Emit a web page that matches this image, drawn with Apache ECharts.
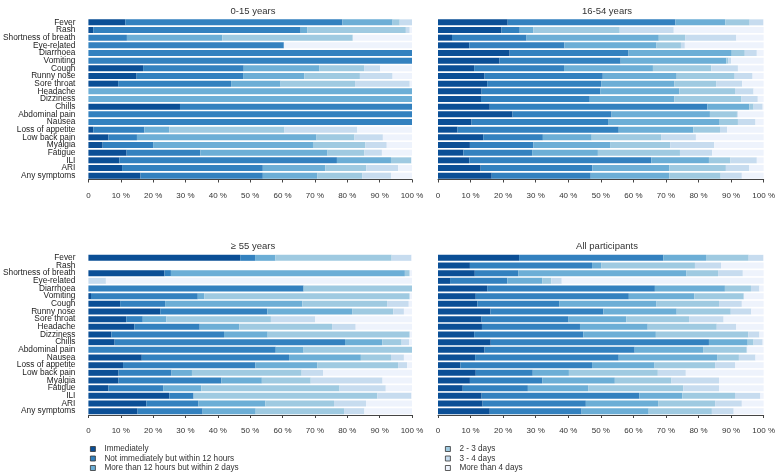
<!DOCTYPE html>
<html>
<head>
<meta charset="utf-8">
<script src="https://cdn.jsdelivr.net/npm/echarts@6/dist/echarts.min.js"></script>
<style>
  html, body { margin: 0; padding: 0; background: #fff; }
  #chart { width: 778px; height: 474px; }
</style>
</head>
<body>
<div id="chart"></div>
<script>
const FONT = "'Liberation Sans', Arial, sans-serif";

const categories = [
  "Fever", "Rash", "Shortness of breath", "Eye-related", "Diarrhoea", "Vomiting",
  "Cough", "Runny nose", "Sore throat", "Headache", "Dizziness", "Chills",
  "Abdominal pain", "Nausea", "Loss of appetite", "Low back pain", "Myalgia",
  "Fatigue", "ILI", "ARI", "Any symptoms"
];
const seriesNames = [
  "Immediately",
  "Not immediately but within 12 hours",
  "More than 12 hours but within 2 days",
  "2 - 3 days",
  "3 - 4 days",
  "More than 4 days"
];
const colors = ["#0b4f96", "#3381bf", "#6caed6", "#9fcae1", "#c7dcef", "#eef3fc"];
const panelTitles = ["0-15 years", "16-54 years", "\u2265 55 years", "All participants"];
const xTicks = [0, 10, 20, 30, 40, 50, 60, 70, 80, 90, 100];

// rows follow seriesNames, columns follow categories (percent)
const age0to15 = [
  [11.4, 1.5, 0, 0, 0, 0, 16.9, 14.9, 9.2, 0, 0, 28.3, 0, 0, 1.5, 6.2, 4.4, 11.8, 9.6, 10.4, 16.1],
  [67.1, 64.1, 11.9, 60.4, 100, 100, 31.1, 32.9, 34.9, 0, 0, 71.7, 100, 100, 15.8, 8.8, 15.6, 22.8, 67.2, 43.5, 37.8],
  [15.5, 2.0, 29.5, 0, 0, 0, 23.3, 18.9, 15.3, 100, 100, 0, 0, 0, 7.7, 55.5, 49.4, 39.3, 16.7, 19.3, 16.8],
  [2.2, 30.5, 40.3, 0, 0, 0, 13.9, 17.2, 23.0, 0, 0, 0, 0, 0, 35.6, 11.7, 16.2, 11.4, 6.3, 12.7, 13.9],
  [3.8, 1.2, 0, 0, 0, 0, 5.0, 10.1, 16.9, 0, 0, 0, 0, 0, 22.5, 8.8, 6.6, 5.4, 0, 9.8, 8.9],
  [0, 0.7, 18.3, 39.6, 0, 0, 9.8, 6.0, 0.7, 0, 0, 0, 0, 0, 16.9, 9.0, 7.8, 9.3, 0.2, 4.3, 6.5]
];
const age16to54 = [
  [21.4, 19.5, 4.3, 9.6, 22.0, 18.9, 11.1, 14.3, 15.1, 13.4, 13.2, 15.9, 22.9, 10.3, 6.0, 13.9, 9.8, 7.8, 9.6, 13.1, 16.5],
  [51.5, 5.6, 22.9, 29.2, 36.5, 37.2, 27.6, 36.3, 35.0, 36.4, 33.4, 66.8, 30.4, 42.1, 49.5, 18.3, 19.5, 21.1, 55.9, 34.3, 30.4],
  [15.3, 4.2, 40.6, 28.3, 31.7, 32.4, 27.3, 22.7, 22.5, 24.3, 26.0, 12.9, 30.2, 34.1, 22.9, 15.0, 23.7, 20.2, 17.7, 23.6, 24.1],
  [7.5, 26.5, 8.1, 7.5, 4.0, 0.7, 17.9, 17.8, 12.8, 17.1, 20.6, 1.3, 8.3, 5.6, 8.2, 21.3, 18.3, 25.2, 6.6, 17.4, 15.8],
  [4.2, 16.6, 15.7, 1.2, 3.7, 0.8, 8.2, 5.5, 8.0, 5.7, 5.0, 2.8, 0.3, 5.4, 2.2, 10.7, 13.5, 9.9, 8.1, 7.2, 6.5],
  [0.1, 27.6, 8.4, 24.2, 2.1, 10.0, 7.9, 3.4, 6.6, 3.1, 1.8, 0.3, 7.9, 2.5, 11.2, 20.8, 15.2, 15.8, 2.1, 4.4, 6.7]
];
const age55plus = [
  [46.9, 0, 23.5, 0, 0, 0.8, 9.8, 22.2, 11.7, 14.2, 7.1, 8.1, 0, 16.5, 10.7, 9.3, 9.3, 6.2, 25.0, 17.9, 15.2],
  [4.6, 0, 2.0, 0, 66.5, 33.0, 13.9, 33.1, 5.1, 20.2, 34.8, 71.2, 57.9, 45.5, 40.9, 16.4, 31.8, 16.9, 7.5, 16.1, 20.1],
  [6.3, 0, 72.3, 0, 0, 2.0, 42.4, 26.2, 7.3, 12.2, 13.5, 11.5, 8.6, 22.2, 19.1, 6.3, 12.5, 11.8, 0, 20.7, 16.4],
  [35.9, 0, 1.5, 0, 33.5, 63.5, 26.2, 12.7, 32.3, 28.7, 43.9, 6.0, 33.5, 9.3, 25.0, 33.9, 15.1, 42.7, 56.8, 21.2, 27.3],
  [6.1, 0, 0, 5.4, 0, 0, 6.7, 3.3, 13.7, 7.3, 0, 2.3, 0, 4.0, 2.8, 6.6, 22.2, 14.3, 10.5, 9.9, 6.3],
  [0.2, 0, 0.7, 94.6, 0, 0.7, 1.0, 2.5, 29.9, 17.4, 0.7, 0.9, 0, 2.5, 1.5, 27.5, 9.1, 8.1, 0.2, 14.2, 14.7]
];
const allParticipants = [
  [24.9, 9.8, 11.3, 3.7, 15.1, 11.6, 12.1, 16.1, 13.4, 13.5, 11.1, 16.2, 14.3, 11.4, 6.9, 11.6, 9.8, 7.6, 13.4, 13.7, 15.9],
  [44.3, 37.5, 13.4, 17.6, 51.5, 47.0, 25.1, 34.7, 26.7, 30.1, 33.5, 67.0, 46.1, 44.1, 40.4, 17.5, 22.2, 20.0, 48.4, 31.7, 28.2],
  [13.1, 2.9, 51.6, 10.7, 21.5, 20.1, 29.9, 22.5, 17.7, 20.8, 22.3, 11.9, 21.0, 30.2, 19.2, 11.1, 22.3, 18.5, 13.2, 22.2, 20.6],
  [13.1, 28.7, 9.7, 2.8, 8.0, 15.2, 19.2, 16.6, 19.3, 21.2, 28.4, 1.8, 13.4, 6.7, 18.6, 27.3, 17.4, 29.2, 16.2, 17.5, 19.4],
  [4.5, 8.0, 7.6, 3.2, 2.6, 0, 7.0, 6.3, 10.6, 6.0, 3.4, 2.8, 0.2, 5.1, 6.1, 8.6, 14.6, 11.0, 7.8, 8.2, 6.7],
  [0.1, 13.1, 6.4, 62.0, 1.3, 6.1, 6.7, 3.8, 12.3, 8.4, 1.3, 0.3, 5.0, 2.5, 8.8, 23.9, 13.7, 13.7, 1.0, 6.7, 9.2]
];
const panels = [age0to15, age16to54, age55plus, allParticipants];

// panel boxes: left, top
const boxes = [
  { left: 84, top: 18.5 },
  { left: 438, top: 18.5 },
  { left: 84, top: 254 },
  { left: 438, top: 254 }
];
const gridW = 328;
const gridH = 161;

const grids = [];
const xAxes = [];
const yAxes = [];
const titles = [];
const series = [];

panels.forEach((panel, p) => {
  const b = boxes[p];
  grids.push({ left: b.left, top: b.top, width: gridW, height: gridH, containLabel: false });
  titles.push({
    text: panelTitles[p],
    left: b.left + gridW / 2,
    top: b.top - 17.5,
    textAlign: "center",
    textStyle: { fontFamily: FONT, fontSize: 9.5, fontWeight: "normal", color: "#333" }
  });
  xAxes.push({
    gridIndex: p,
    type: "value",
    min: xTicks[0],
    max: xTicks[xTicks.length - 1],
    interval: 10,
    splitLine: { show: false },
    axisLine: { show: true, lineStyle: { color: "#444", width: 1 } },
    axisTick: { show: true, length: 3, lineStyle: { color: "#444" } },
    axisLabel: {
      margin: 12,
      fontFamily: FONT,
      fontSize: 8,
      color: "#333",
      formatter: (v) => (v === 0 ? "0" : v + " %")
    }
  });
  yAxes.push({
    gridIndex: p,
    type: "category",
    inverse: true,
    data: categories,
    axisLine: { show: false },
    axisTick: { show: false },
    axisLabel: {
      show: p % 2 === 0,
      interval: 0,
      margin: 13,
      fontFamily: FONT,
      fontSize: 8.3,
      color: "#222"
    }
  });
  seriesNames.forEach((name, s) => {
    series.push({
      name: name,
      type: "bar",
      stack: "panel" + p,
      xAxisIndex: p,
      yAxisIndex: p,
      barCategoryGap: "22%",
      itemStyle: { color: colors[s] },
      emphasis: { disabled: true },
      data: panel[s]
    });
  });
});

// one legend per entry so the two columns sit exactly
const legendLeft = [90, 90, 90, 445, 445, 445];
const legendTop = [445, 454.5, 464, 445, 454.5, 464];
const legends = seriesNames.map((name, i) => ({
  data: [name],
  left: legendLeft[i],
  top: legendTop[i],
  icon: "rect",
  itemWidth: 5,
  itemHeight: 5,
  padding: 0,
  selectedMode: false,
  itemStyle: { borderColor: "#333", borderWidth: 0.8 },
  textStyle: { fontFamily: FONT, fontSize: 8.2, color: "#333", padding: [0, 0, 0, 4] }
}));

const chart = echarts.init(document.getElementById("chart"), null, { renderer: "canvas" });
chart.setOption({
  animation: false,
  backgroundColor: "#fff",
  title: titles,
  legend: legends,
  grid: grids,
  xAxis: xAxes,
  yAxis: yAxes,
  series: series
});
</script>
</body>
</html>
